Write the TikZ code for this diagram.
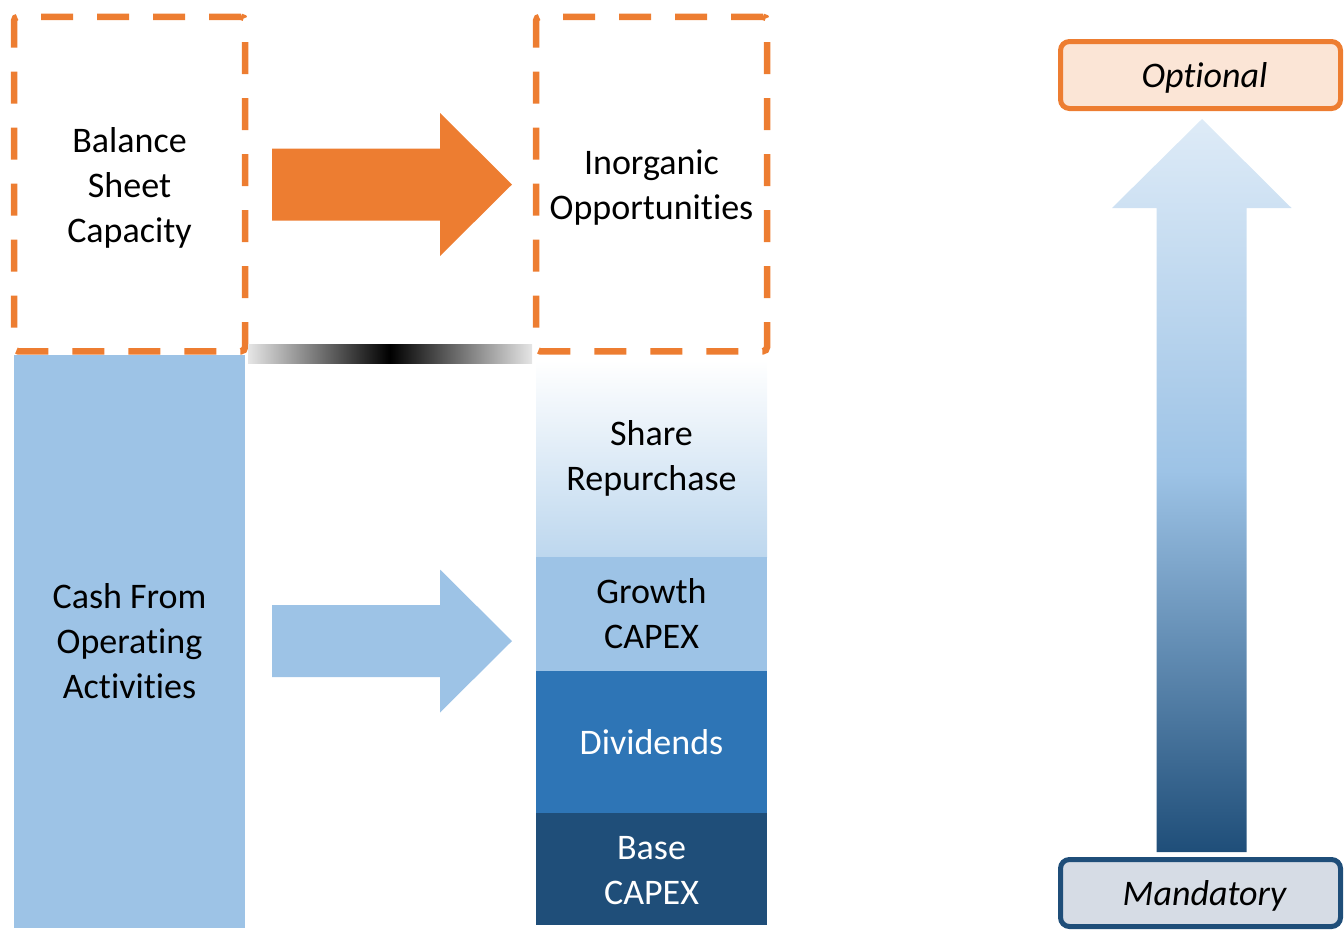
\documentclass[tikz,border=0pt]{standalone}
\usepackage{fontspec}
\setmainfont[Ligatures=NoCommon]{Carlito}
\usetikzlibrary{calc}
\definecolor{accent}{HTML}{ED7D31}
\definecolor{accentpale}{HTML}{FBE5D6}
\definecolor{paleblue}{HTML}{BDD7EE}
\definecolor{iceblue}{HTML}{DEEBF7}
\definecolor{lightblue}{HTML}{9DC3E6}
\definecolor{midblue}{HTML}{2E75B6}
\definecolor{navy}{HTML}{1F4E79}
\definecolor{slate}{HTML}{D6DCE5}
% light-to-dark scale for the priority arrow (bottom = 0bp)
\pgfdeclareverticalshading{priority}{100bp}{color(0bp)=(navy); color(25bp)=(navy);
  color(51bp)=(lightblue); color(75bp)=(iceblue); color(100bp)=(iceblue)}
\begin{document}
\begin{tikzpicture}[x=1pt,y=-1pt,
  every node/.style={outer sep=0pt, inner sep=0pt},
  lbl/.style={font=\fontsize{36}{45}\selectfont, align=center},
  dashbox/.style={draw=accent, line width=6.5pt, dash pattern=on 32pt off 24pt,
    rounded corners=4pt, minimum width=231pt, minimum height=334.5pt},
  block/.style={lbl, minimum width=231pt},
  tagbox/.style={line width=5pt, rounded corners=9pt, minimum width=280pt,
    minimum height=67pt},
  tagtext/.style={font=\fontsize{36}{45}\selectfont\itshape, xshift=4pt, yshift=-3pt},
  fatarrow/.style={fill=#1}
]
\useasboundingbox (0,0) rectangle (1344,930);
\clip (0,0) rectangle (1344,930);

% dashed capacity / opportunity boxes
\node[dashbox, label={[lbl, yshift=-4pt]center:{Balance\\Sheet\\Capacity}}] (bsc)
  at (129.5,184) {};
\node[dashbox, label={[lbl, yshift=-4pt]center:{Inorganic\\Opportunities}}] (ino)
  at (651.5,184) {};

% operating cash column
\node[block, fill=lightblue, minimum height=573pt] (cfo) at (129.5,641.5)
  {Cash From\\Operating\\Activities};

% uses of cash stack
\node[block, minimum height=197pt, top color=white, bottom color=paleblue] (share)
  at (651.5,458.5) {Share\\Repurchase};
\node[block, fill=lightblue, minimum height=114pt] (growth) at (651.5,614)
  {Growth\\CAPEX};
\node[block, fill=midblue, text=white, minimum height=142pt] (div) at (651.5,742)
  {Dividends};
\node[block, fill=navy, text=white, minimum height=112pt,
  label={[lbl, text=white, yshift=-2pt]center:{Base\\CAPEX}}] (base) at (651.5,869) {};

% block arrows between the columns
\coordinate (oa) at ($(bsc.east)+(27,0.5)$);
\fill[fatarrow=accent] (oa) ++(0,-36) -- ++(168,0) -- ++(0,-35.5) -- ++(72,71.5)
  -- ++(-72,71.5) -- ++(0,-35.5) -- ++(-168,0) -- cycle;
\coordinate (ba) at ($(cfo.east)+(27,-0.5)$);
\fill[fatarrow=lightblue] (ba) ++(0,-36) -- ++(168,0) -- ++(0,-35.5) -- ++(72,71.5)
  -- ++(-72,71.5) -- ++(0,-35.5) -- ++(-168,0) -- cycle;

% fading bar joining the two dashed boxes
\shade[left color=black!10, right color=black!10, middle color=black]
  ($(bsc.south east)+(3,-7)$) rectangle ($(ino.south west)+(-4,12)$);

% mandatory-to-optional scale
\node[tagbox, draw=accent, fill=accentpale,
  label={[tagtext]center:Optional}] (opt) at (1200.5,75) {};
\node[tagbox, draw=navy, fill=slate,
  label={[tagtext]center:Mandatory}] (mand) at (1200.5,893) {};
\coordinate (tip) at ($(opt.south)+(1.5,10.5)$);
\shade[shading=priority]
  (tip) -- ++(89.5,89) -- ++(-45,0) -- ++(0,644) -- ++(-90,0) -- ++(0,-644)
  -- ++(-44.5,0) -- cycle;
\end{tikzpicture}
\end{document}
